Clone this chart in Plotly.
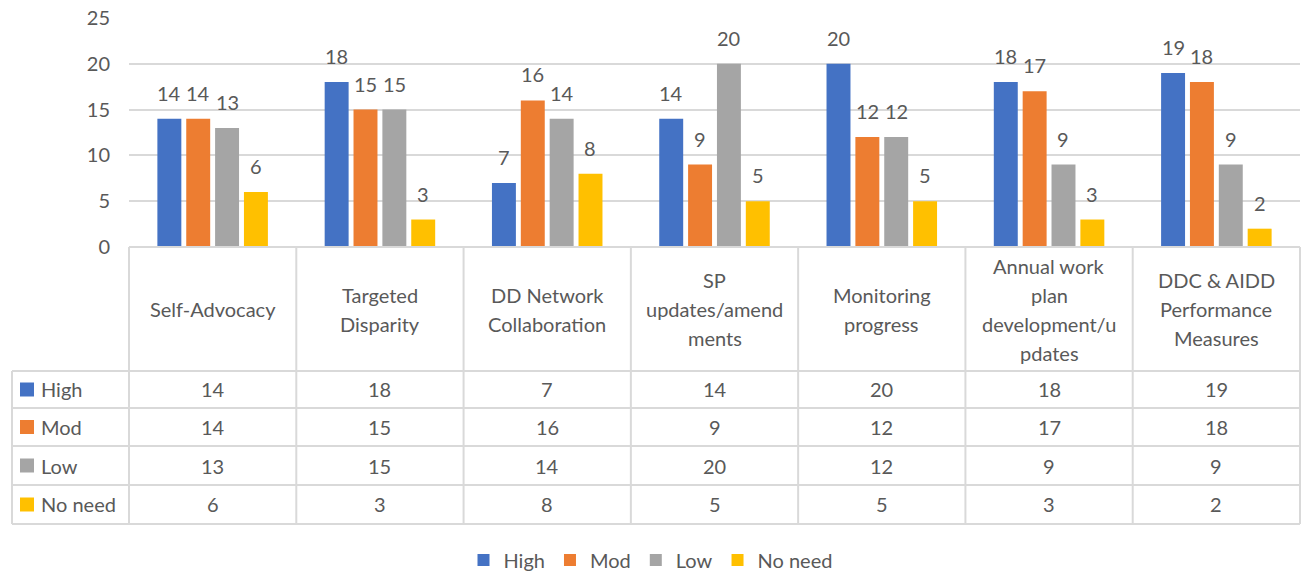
import plotly.graph_objects as go

categories = ["Self-Advocacy", "Targeted Disparity", "DD Network Collaboration",
              "SP updates/amendments", "Monitoring progress",
              "Annual work plan development/updates", "DDC & AIDD Performance Measures"]
header_labels = ["Self-Advocacy", "Targeted<br>Disparity", "DD Network<br>Collaboration",
                 "SP<br>updates/amend<br>ments", "Monitoring<br>progress",
                 "Annual work<br>plan<br>development/u<br>pdates",
                 "DDC & AIDD<br>Performance<br>Measures"]
series_names = ["High", "Mod", "Low", "No need"]
high = [14, 18, 7, 14, 20, 18, 19]
mod = [14, 15, 16, 9, 12, 17, 18]
low = [13, 15, 14, 20, 12, 9, 9]
no_need = [6, 3, 8, 5, 5, 3, 2]
series_values = [high, mod, low, no_need]
colors = ["#4472C4", "#ED7D31", "#A5A5A5", "#FFC000"]

W, H = 1301, 573
L, R, T, B = 129, 1, 18, 326
FONT = "Lato"
TXT = "#595959"
GRID = "#D9D9D9"
FS = 20
LINE_H = 29
bargap = 0.31
bargroupgap = 0.17

plot_w = W - L - R
plot_h = H - T - B
ncat = len(categories)
colpx = plot_w / ncat
slot = colpx * (1 - bargap) / len(series_names)


def py(p):  # pixel y -> paper y
    return (H - B - p) / plot_h


def px(p):  # pixel x -> paper x
    return (p - L) / plot_w


fig = go.Figure()
for name, vals, c in zip(series_names, series_values, colors):
    fig.add_trace(go.Bar(x=list(range(ncat)), y=vals, name=name, marker_color=c,
                         marker_line_width=0))

annotations = []
shapes = []
# value labels above bars
for i, vals in enumerate(series_values):
    for j, v in enumerate(vals):
        annotations.append(dict(x=j, y=v, xref="x", yref="y", text=str(v), showarrow=False,
                                xshift=(i - 1.5) * slot, yshift=26, xanchor="center",
                                yanchor="middle",
                                font=dict(family=FONT, size=FS, color=TXT)))

# data table
row_edges = [371, 408, 446, 485, 524]
top = H - B
left_px = 12
shapes.append(dict(type="line", xref="paper", yref="paper", x0=0, x1=1, y0=py(top), y1=py(top),
                   line=dict(color=GRID, width=2)))
for r in row_edges:
    shapes.append(dict(type="line", xref="paper", yref="paper", x0=px(left_px), x1=1,
                       y0=py(r), y1=py(r), line=dict(color=GRID, width=2)))
for k in range(ncat + 1):
    xp = k / ncat
    shapes.append(dict(type="line", xref="paper", yref="paper", x0=xp, x1=xp,
                       y0=py(top), y1=py(row_edges[-1]), line=dict(color=GRID, width=2)))
shapes.append(dict(type="line", xref="paper", yref="paper", x0=px(left_px), x1=px(left_px),
                   y0=py(row_edges[0]), y1=py(row_edges[-1]), line=dict(color=GRID, width=2)))

# header labels (one annotation per wrapped line)
hc = (top + row_edges[0]) / 2
for j, lab in enumerate(header_labels):
    lines = lab.split("<br>")
    n = len(lines)
    for k, ln in enumerate(lines):
        yp = hc + (k - (n - 1) / 2) * LINE_H
        annotations.append(dict(x=(j + 0.5) / ncat, y=py(yp), xref="paper",
                                yref="paper", text=ln, showarrow=False, xanchor="center",
                                yanchor="middle",
                                font=dict(family=FONT, size=FS, color=TXT)))
# rows
for i, (name, vals, c) in enumerate(zip(series_names, series_values, colors)):
    yc = (row_edges[i] + row_edges[i + 1]) / 2
    shapes.append(dict(type="rect", xref="paper", yref="paper", x0=px(20), x1=px(34),
                       y0=py(yc - 7), y1=py(yc + 7), fillcolor=c, line=dict(width=0)))
    annotations.append(dict(x=px(39), y=py(yc), xref="paper", yref="paper", text=name,
                            showarrow=False, xanchor="left", yanchor="middle",
                            font=dict(family=FONT, size=FS, color=TXT)))
    for j, v in enumerate(vals):
        annotations.append(dict(x=(j + 0.5) / ncat, y=py(yc), xref="paper", yref="paper",
                                text=str(v), showarrow=False, xanchor="center",
                                yanchor="middle",
                                font=dict(family=FONT, size=FS, color=TXT)))

fig.update_layout(
    width=W, height=H, autosize=False,
    margin=dict(l=L, r=R, t=T, b=B, pad=0),
    paper_bgcolor="white", plot_bgcolor="white",
    barmode="group", bargap=bargap, bargroupgap=bargroupgap,
    font=dict(family=FONT, size=FS, color=TXT),
    xaxis=dict(range=[-0.5, ncat - 0.5], showticklabels=False, showgrid=False,
               zeroline=False, ticks="", fixedrange=True),
    yaxis=dict(range=[0, 25], dtick=5, showgrid=True, gridcolor=GRID, gridwidth=2,
               zeroline=False, ticks="", ticklabelstandoff=18,
               tickfont=dict(family=FONT, size=FS, color=TXT)),
    showlegend=True,
    legend=dict(orientation="h", xref="container", yref="container", x=0.5, xanchor="center",
                y=1 - 560 / H, yanchor="middle", itemwidth=30,
                font=dict(family=FONT, size=FS, color=TXT), traceorder="normal"),
    shapes=shapes,
    annotations=annotations,
)

fig.write_html("out.html", config={"displayModeBar": False},
               post_script="document.body.style.margin='0';"
               "document.body.style.overflow='hidden';")
